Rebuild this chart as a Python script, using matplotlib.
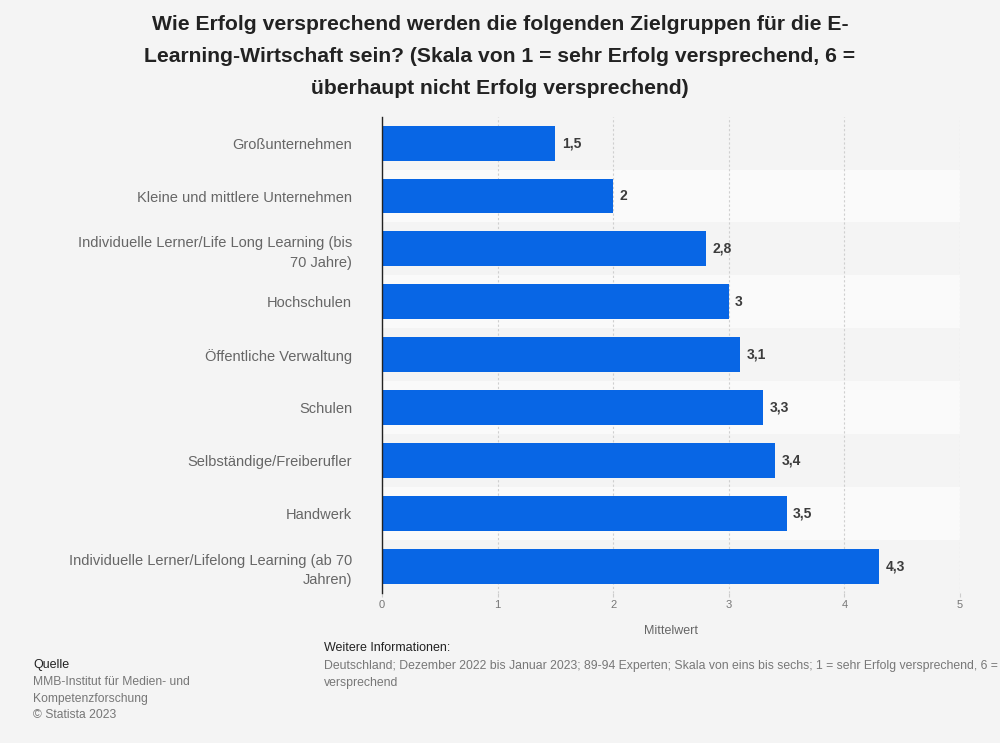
import matplotlib.pyplot as plt

categories = [
    "Großunternehmen",
    "Kleine und mittlere Unternehmen",
    "Individuelle Lerner/Life Long Learning (bis\n70 Jahre)",
    "Hochschulen",
    "Öffentliche Verwaltung",
    "Schulen",
    "Selbständige/Freiberufler",
    "Handwerk",
    "Individuelle Lerner/Lifelong Learning (ab 70\nJahren)",
]
values = [1.5, 2.0, 2.8, 3.0, 3.1, 3.3, 3.4, 3.5, 4.3]
value_labels = ["1,5", "2", "2,8", "3", "3,1", "3,3", "3,4", "3,5", "4,3"]
xticks = [0, 1, 2, 3, 4, 5]

plt.rcParams['font.family'] = ['Liberation Sans', 'DejaVu Sans']

bg = '#f4f4f4'
fig = plt.figure(figsize=(10, 7.43), dpi=100, facecolor=bg)
ax = fig.add_axes([0.382, 0.202, 0.578, 0.641])
ax.set_facecolor(bg)

pos = list(range(len(categories)))

# alternating stripes
for i in pos:
    if i % 2 == 1:
        ax.axhspan(i - 0.5, i + 0.5, color='#fafafa', zorder=0, lw=0)

ax.barh(pos, values, height=0.66, color='#0866e5', zorder=3)

for p, v, lab in zip(pos, values, value_labels):
    ax.text(v + 0.055, p, lab, va='center', ha='left', fontsize=10,
            fontweight='bold', color='#3c3c3c', zorder=4)

ax.set_xlim(0, 5.0)
ax.set_ylim(len(categories) - 0.5, -0.5)
ax.set_yticks(pos)
ax.set_yticklabels(categories, fontsize=10.5, color='#666666')
for t in ax.get_yticklabels():
    t.set_linespacing(1.5)
ax.set_xticks(xticks)
ax.set_xticklabels([str(t) for t in xticks], fontsize=8, color='#777777')
ax.tick_params(axis='y', length=0, pad=21.5)
ax.tick_params(axis='x', length=3, color='#cccccc', pad=2)

ax.grid(axis='x', linestyle=(0, (2, 2)), color='#cfcfcf', lw=0.8, zorder=1)
for s in ['top', 'right', 'bottom']:
    ax.spines[s].set_visible(False)
ax.spines['left'].set_color('#222222')
ax.spines['left'].set_linewidth(1.0)
ax.spines['left'].set_zorder(5)

ax.set_xlabel('Mittelwert', fontsize=9, color='#666666', labelpad=11)

fig.text(0.5, 0.98,
         "Wie Erfolg versprechend werden die folgenden Zielgruppen für die E-\n"
         "Learning-Wirtschaft sein? (Skala von 1 = sehr Erfolg versprechend, 6 =\n"
         "überhaupt nicht Erfolg versprechend)",
         ha='center', va='top', fontsize=15.2, fontweight='bold',
         color='#222222', linespacing=1.86)

# footer
fig.text(0.033, 0.105, "Quelle", fontsize=9, color='#222222', va='center')
fig.text(0.033, 0.090, "MMB-Institut für Medien- und\nKompetenzforschung\n© Statista 2023",
         fontsize=8.7, color='#777777', va='top', linespacing=1.52)
fig.text(0.324, 0.128, "Weitere Informationen:", fontsize=9, color='#222222', va='center')
fig.text(0.324, 0.112,
         "Deutschland; Dezember 2022 bis Januar 2023; 89-94 Experten; Skala von eins bis sechs; "
         "1 = sehr Erfolg versprechend, 6 = überhaupt nicht Erfolg\nversprechend",
         fontsize=8.8, color='#777777', va='top', linespacing=1.55)

fig.savefig('out.png', dpi=100, facecolor=bg)
